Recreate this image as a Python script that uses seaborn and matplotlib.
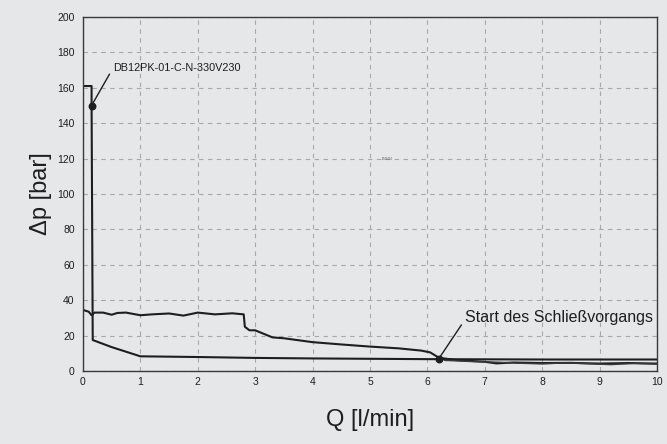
import matplotlib
matplotlib.use("Agg")
import matplotlib.pyplot as plt
import seaborn as sns
import pandas as pd

# characteristic curve with the pressure peak at start
q_peak = [0.0, 0.15, 0.15, 0.17, 0.5, 1.0, 2.0, 3.0, 4.0, 5.0, 6.0, 7.0, 8.0, 9.0, 10.0]
p_peak = [161, 161, 150, 17.5, 13.5, 8.3, 7.9, 7.4, 7.1, 6.9, 6.7, 6.6, 6.5, 6.5, 6.5]

# closing curve
q_close = [0.0, 0.1, 0.15, 0.2, 0.35, 0.5, 0.6, 0.75, 1.0, 1.2, 1.5, 1.75, 2.0, 2.3, 2.6, 2.8,
           2.82, 2.9, 3.0, 3.3, 3.5, 4.0, 4.5, 5.0, 5.5, 5.9, 6.05, 6.2, 6.5, 7.0, 7.2,
           7.5, 8.0, 8.5, 9.0, 9.5, 10.0]
p_close = [34.5, 33.5, 31.5, 33, 33, 31.8, 32.8, 33, 31.5, 32, 32.5, 31.3, 33, 32, 32.6, 32,
           25, 23, 23, 19, 18.5, 16.3, 15, 13.8, 12.8, 11.5, 10.5, 7.5, 6.2, 5.2, 4.3,
           4.8, 4.5, 4.6, 4.2, 4.5, 4.2]

# noisy lower trace at high flow
q_noise = [6.3, 6.8, 7.2, 7.6, 8.0, 8.4, 8.8, 9.2, 9.6, 10.0]
p_noise = [6.0, 5.3, 5.0, 4.4, 4.0, 4.6, 4.1, 3.6, 4.3, 3.9]

labels = ["DB12PK-01-C-N-330V230", "Start des Schließvorgangs"]
marker_q = [0.15, 6.2]
marker_p = [150, 7.0]

bg = "#e6e7e9"
sns.set_theme(style="whitegrid")
plt.rcParams["font.family"] = ["Liberation Sans", "DejaVu Sans"]

fig = plt.figure(figsize=(6.67, 4.44), dpi=100, facecolor=bg)
ax = fig.add_axes([0.1244, 0.1644, 0.8606, 0.7973])
ax.set_facecolor(bg)

df_peak = pd.DataFrame({"Q": q_peak, "p": p_peak})
df_close = pd.DataFrame({"Q": q_close, "p": p_close})
df_noise = pd.DataFrame({"Q": q_noise, "p": p_noise})

for d, c, w in [(df_peak, "#1e1e1e", 1.5), (df_close, "#1e1e1e", 1.5), (df_noise, "#3a3a3a", 1.0)]:
    sns.lineplot(data=d, x="Q", y="p", sort=False, estimator=None, color=c, lw=w, ax=ax)

ax.scatter(marker_q, marker_p, s=22, color="#1e1e1e", zorder=5)
ax.annotate(labels[0], xy=(marker_q[0], marker_p[0]), xytext=(0.52, 171),
            fontsize=7.8, va="center", ha="left", color="#1e1e1e",
            arrowprops=dict(arrowstyle="-", color="#1e1e1e", lw=1.0, shrinkA=0, shrinkB=0,
                            relpos=(0, 0.5)))
ax.annotate(labels[1], xy=(marker_q[1], marker_p[1]), xytext=(6.65, 30.5),
            fontsize=11.5, va="center", ha="left", color="#1e1e1e",
            arrowprops=dict(arrowstyle="-", color="#1e1e1e", lw=1.0, shrinkA=0, shrinkB=0,
                            relpos=(0, 0.3)))
ax.text(5.2, 120, "2645400", fontsize=2, color="#555555", va="center")

ax.set_xlim(0, 10)
ax.set_ylim(0, 200)
ax.set_xticks(range(0, 11))
ax.set_yticks(range(0, 201, 20))
ax.grid(True, color="#a8a8a8", linestyle=(0, (4, 4)), linewidth=0.8)

for s in ax.spines.values():
    s.set_visible(True)
    s.set_color("#3a3a3a")
    s.set_linewidth(1.0)

ax.tick_params(axis="x", direction="in", length=6, width=0.9, color="#3a3a3a",
               labelsize=7.5, pad=4, labelcolor="#1e1e1e")
ax.tick_params(axis="y", direction="out", length=4, width=0.9, color="#3a3a3a",
               labelsize=7.5, pad=2, labelcolor="#1e1e1e")

ax.set_xlabel("Q [l/min]", fontsize=17, color="#1e1e1e", labelpad=16)
ax.set_ylabel("Δp [bar]", fontsize=17, color="#1e1e1e", labelpad=4)

fig.savefig("out.png", dpi=100, facecolor=bg)
